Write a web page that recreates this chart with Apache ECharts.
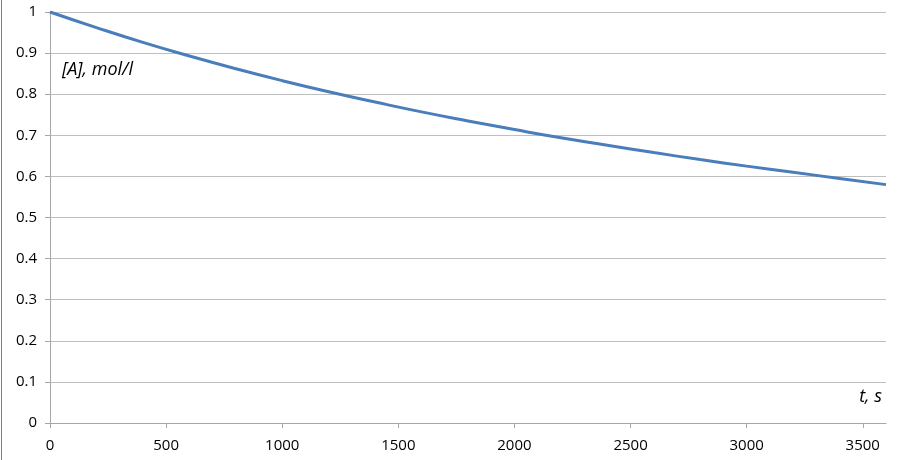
<!DOCTYPE html>
<html>
<head>
<meta charset="utf-8">
<script src="https://cdn.jsdelivr.net/npm/echarts@6/dist/echarts.min.js"></script>
<style>
  html, body { margin: 0; padding: 0; background: #fff; }
  #chart { width: 900px; height: 460px; }
</style>
</head>
<body>
<div id="chart"></div>
<script>
// time, s
const times = [0, 200, 400, 600, 800, 1000, 1200, 1400, 1600, 1800, 2000,
  2200, 2400, 2600, 2800, 3000, 3200, 3400, 3600];
// [A], mol/l
const conc = [1.000, 0.962, 0.926, 0.893, 0.862, 0.833, 0.806, 0.781, 0.757,
  0.735, 0.714, 0.694, 0.676, 0.658, 0.641, 0.625, 0.610, 0.595, 0.580];

const yLabel = '[A], mol/l';
const xLabel = 't, s';

const chart = echarts.init(document.getElementById('chart'), null, { renderer: 'canvas' });

const font = 'Open Sans, Liberation Sans, sans-serif';

chart.setOption({
  animation: false,
  grid: { left: 50, right: 14, top: 12, bottom: 37 },
  xAxis: {
    type: 'value',
    min: 0,
    max: 3600,
    interval: 500,
    axisLine: { show: true, lineStyle: { color: '#a6a6a6', width: 1 } },
    axisTick: { show: true, length: 5, lineStyle: { color: '#a6a6a6' } },
    axisLabel: { color: '#000', fontSize: 15, fontFamily: font, margin: 15,
      showMaxLabel: false, formatter: v => String(v) },
    splitLine: { show: false }
  },
  yAxis: {
    type: 'value',
    min: 0,
    max: 1,
    interval: 0.1,
    axisLine: { show: true, lineStyle: { color: '#a6a6a6', width: 1 } },
    axisTick: { show: true, length: 5, lineStyle: { color: '#a6a6a6' } },
    axisLabel: { color: '#000', fontSize: 15, fontFamily: font, margin: 13,
      formatter: v => String(Math.round(v * 10) / 10) },
    splitLine: { show: true, lineStyle: { color: '#bfbfbf', width: 1 } }
  },
  series: [{
    type: 'line',
    data: times.map((t, i) => [t, conc[i]]),
    smooth: true,
    symbol: 'none',
    lineStyle: { color: '#4a7ebb', width: 3 },
    z: 3
  }],
  graphic: [
    { type: 'line', shape: { x1: 1.5, y1: 0, x2: 1.5, y2: 460 },
      style: { stroke: '#808080', lineWidth: 1 } },
    { type: 'text', left: 62, top: 61,
      style: { text: yLabel, fontSize: 18, fontStyle: 'italic', fontFamily: font, fill: '#000' } },
    { type: 'text', right: 18, top: 388,
      style: { text: xLabel, fontSize: 18, fontStyle: 'italic', fontFamily: font, fill: '#000' } }
  ]
});
</script>
</body>
</html>
